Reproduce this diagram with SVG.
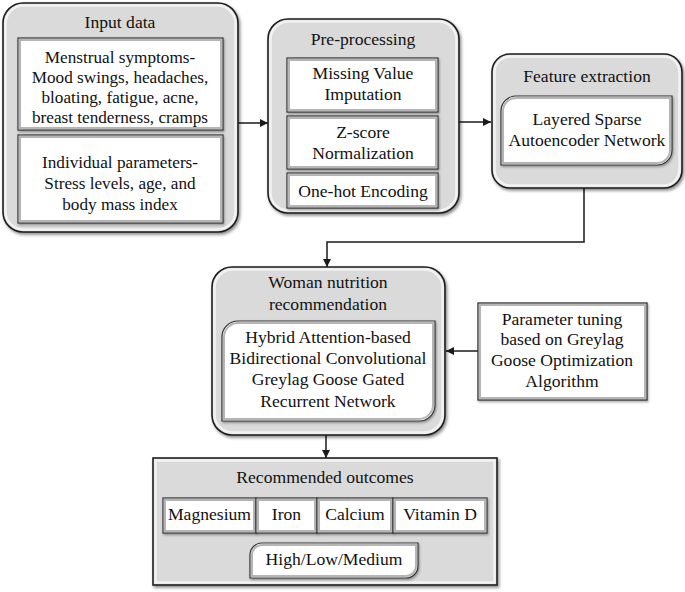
<svg xmlns="http://www.w3.org/2000/svg" width="685" height="592" viewBox="0 0 685 592">
<defs>
<style>
text{font-family:"Liberation Serif","Times New Roman",serif;font-size:17.6px;fill:#111;text-anchor:middle}
.sm{font-size:17.2px}
.outer{fill:#dadada;stroke:#1e1e1e;stroke-width:1.6}
.outhl{fill:none;stroke:#f2f2f2;stroke-width:2.5}
.inner{fill:#ffffff;stroke:#333;stroke-width:1.2}
.inhl{fill:none;stroke:#b5b5b5;stroke-width:2}
.conn{fill:none;stroke:#1a1a1a;stroke-width:1.5}
</style>
<filter id="sh" x="-10%" y="-10%" width="125%" height="125%">
<feDropShadow dx="1.5" dy="2" stdDeviation="1.5" flood-color="#000" flood-opacity="0.45"/>
</filter>
<filter id="sh2" x="-10%" y="-10%" width="125%" height="125%">
<feDropShadow dx="1" dy="1.5" stdDeviation="1" flood-color="#000" flood-opacity="0.35"/>
</filter>
<marker id="arr" viewBox="0 0 10 10" refX="10" refY="5" markerWidth="8" markerHeight="8" markerUnits="userSpaceOnUse" orient="auto">
<path d="M0,0 L10,5 L0,10 z" fill="#1a1a1a"/>
</marker>
</defs>

<g id="connectors">
<line class="conn" x1="238" y1="123" x2="268" y2="123" marker-end="url(#arr)"/>
<line class="conn" x1="459" y1="122" x2="491" y2="122" marker-end="url(#arr)"/>
<polyline class="conn" points="584,188 584,242 327,242 327,267" marker-end="url(#arr)"/>
<line class="conn" x1="478" y1="351" x2="446" y2="351" marker-end="url(#arr)"/>
<line class="conn" x1="326" y1="435" x2="326" y2="458" marker-end="url(#arr)"/>
</g>

<g id="input-data">
<rect class="outer" x="3" y="3" width="235" height="229" rx="20" filter="url(#sh)"/>
<rect class="outhl" x="5.5" y="5.5" width="230" height="224" rx="18"/>
<text x="120" y="28">Input data</text>
<g id="menstrual-symptoms">
<rect class="inner" x="18" y="38" width="205" height="92" filter="url(#sh2)"/>
<rect class="inhl" x="20" y="40" width="201" height="88"/>
<text class="sm" x="120" y="63">Menstrual symptoms-</text>
<text class="sm" x="120" y="83">Mood swings, headaches,</text>
<text class="sm" x="120" y="103">bloating, fatigue, acne,</text>
<text class="sm" x="120" y="123">breast tenderness, cramps</text>
</g>
<g id="individual-parameters">
<rect class="inner" x="18" y="135" width="205" height="88" filter="url(#sh2)"/>
<rect class="inhl" x="20" y="137" width="201" height="84"/>
<text class="sm" x="120" y="168">Individual parameters-</text>
<text class="sm" x="120" y="189">Stress levels, age, and</text>
<text class="sm" x="120" y="210">body mass index</text>
</g>
</g>

<g id="pre-processing">
<rect class="outer" x="268" y="19" width="191" height="194" rx="20" filter="url(#sh)"/>
<rect class="outhl" x="270.5" y="21.5" width="186" height="189" rx="18"/>
<text x="363" y="45">Pre-processing</text>
<g id="missing-value">
<rect class="inner" x="287" y="58" width="151" height="54" filter="url(#sh2)"/>
<rect class="inhl" x="289" y="60" width="147" height="50"/>
<text x="363" y="79">Missing Value</text>
<text x="363" y="100">Imputation</text>
</g>
<g id="z-score">
<rect class="inner" x="287" y="116" width="151" height="53" filter="url(#sh2)"/>
<rect class="inhl" x="289" y="118" width="147" height="49"/>
<text x="363" y="138">Z-score</text>
<text x="363" y="159">Normalization</text>
</g>
<g id="one-hot">
<rect class="inner" x="287" y="173" width="151" height="35" filter="url(#sh2)"/>
<rect class="inhl" x="289" y="175" width="147" height="31"/>
<text x="363" y="197">One-hot Encoding</text>
</g>
</g>

<g id="feature-extraction">
<rect class="outer" x="492" y="54" width="190" height="134" rx="18" filter="url(#sh)"/>
<rect class="outhl" x="494.5" y="56.5" width="185" height="129" rx="16"/>
<text x="587" y="82">Feature extraction</text>
<g id="lsan">
<path class="inner" d="M516,96 H672 V150 A15,15 0 0 1 657,165 H501 V111 A15,15 0 0 1 516,96 Z" filter="url(#sh2)"/>
<path class="inhl" d="M516,98 H670 V150 A13,13 0 0 1 657,163 H503 V111 A13,13 0 0 1 516,98 Z"/>
<text x="587" y="125">Layered Sparse</text>
<text x="587" y="146">Autoencoder Network</text>
</g>
</g>

<g id="woman-nutrition">
<rect class="outer" x="212" y="267" width="233" height="168" rx="20" filter="url(#sh)"/>
<rect class="outhl" x="214.5" y="269.5" width="228" height="163" rx="18"/>
<text x="328" y="288">Woman nutrition</text>
<text x="328" y="310">recommendation</text>
<g id="hybrid-network">
<path class="inner" d="M238,321 H435 V405 A16,16 0 0 1 419,421 H222 V337 A16,16 0 0 1 238,321 Z" filter="url(#sh2)"/>
<path class="inhl" d="M238,323 H433 V405 A14,14 0 0 1 419,419 H224 V337 A14,14 0 0 1 238,323 Z"/>
<text x="328" y="343">Hybrid Attention-based</text>
<text x="328" y="364">Bidirectional Convolutional</text>
<text x="328" y="385">Greylag Goose Gated</text>
<text x="328" y="407">Recurrent Network</text>
</g>
</g>

<g id="parameter-tuning">
<rect x="478" y="303" width="169" height="97" fill="#ffffff" stroke="#333" stroke-width="1.3" filter="url(#sh2)"/>
<rect class="inhl" x="480" y="305" width="165" height="93"/>
<text x="562" y="325">Parameter tuning</text>
<text x="562" y="345">based on Greylag</text>
<text x="562" y="366">Goose Optimization</text>
<text x="562" y="387">Algorithm</text>
</g>

<g id="recommended-outcomes">
<rect class="outer" x="153" y="458" width="344" height="127" filter="url(#sh)"/>
<rect class="outhl" x="155.5" y="460.5" width="339" height="122"/>
<text x="325" y="483">Recommended outcomes</text>
<g id="magnesium">
<rect class="inner" x="163" y="498" width="93" height="35" filter="url(#sh2)"/>
<rect class="inhl" x="165" y="500" width="89" height="31"/>
<text x="209.5" y="520">Magnesium</text>
</g>
<g id="iron">
<rect class="inner" x="256" y="498" width="61" height="35" filter="url(#sh2)"/>
<rect class="inhl" x="258" y="500" width="57" height="31"/>
<text x="286.5" y="520">Iron</text>
</g>
<g id="calcium">
<rect class="inner" x="317" y="498" width="76" height="35" filter="url(#sh2)"/>
<rect class="inhl" x="319" y="500" width="72" height="31"/>
<text x="355" y="520">Calcium</text>
</g>
<g id="vitamin-d">
<rect class="inner" x="393" y="498" width="94" height="35" filter="url(#sh2)"/>
<rect class="inhl" x="395" y="500" width="90" height="31"/>
<text x="440" y="520">Vitamin D</text>
</g>
<g id="high-low-medium">
<path class="inner" d="M262,543 H418 V566 A12,12 0 0 1 406,578 H250 V555 A12,12 0 0 1 262,543 Z" filter="url(#sh2)"/>
<path class="inhl" d="M262,545 H416 V566 A10,10 0 0 1 406,576 H252 V555 A10,10 0 0 1 262,545 Z"/>
<text x="334" y="565">High/Low/Medium</text>
</g>
</g>
</svg>
